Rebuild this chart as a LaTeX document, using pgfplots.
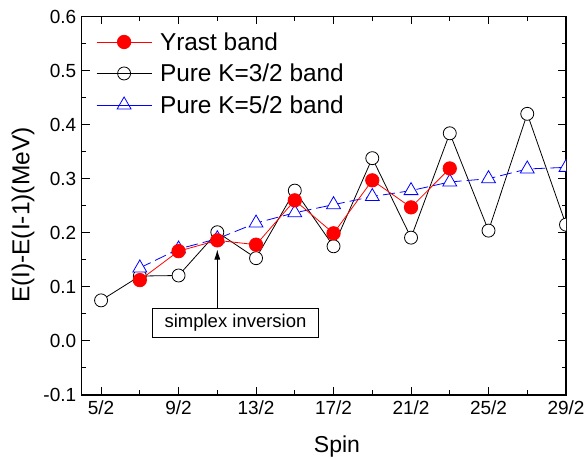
\documentclass[border=0pt]{standalone}
\usepackage{fontspec}
\setmainfont{Liberation Sans}
\usepackage{pgfplots}
\pgfplotsset{compat=1.18}
\usetikzlibrary{arrows.meta}
\pgfplotstableread{
x y
2.5 0.075
3.5 0.120
4.5 0.121
5.5 0.201
6.5 0.153
7.5 0.278
8.5 0.175
9.5 0.338
10.5 0.191
11.5 0.384
12.5 0.204
13.5 0.420
14.5 0.215
}\kthree
\pgfplotstableread{
x y
3.5 0.1125
4.5 0.166
5.5 0.186
6.5 0.178
7.5 0.260
8.5 0.199
9.5 0.297
10.5 0.247
11.5 0.319
}\yrast
\pgfplotstableread{
x y
3.5 0.135
4.5 0.170
5.5 0.189
6.5 0.218
7.5 0.237
8.5 0.252
9.5 0.267
10.5 0.278
11.5 0.294
12.5 0.300
13.5 0.318
14.5 0.321
}\kfive
\begin{document}
\begin{tikzpicture}
\begin{axis}[
  scale only axis,
  width=484.3pt, height=378.5pt,
  xmin=2, xmax=14.5, ymin=-0.1, ymax=0.6,
  xtick={2.5,4.5,6.5,8.5,10.5,12.5,14.5},
  xticklabels={5/2,9/2,13/2,17/2,21/2,25/2,29/2},
  minor xtick={3.5,5.5,7.5,9.5,11.5,13.5},
  ytick={-0.1,0,0.1,0.2,0.3,0.4,0.5,0.6},
  minor ytick={-0.05,0.05,0.15,0.25,0.35,0.45,0.55},
  yticklabel style={/pgf/number format/fixed, /pgf/number format/fixed zerofill, /pgf/number format/precision=1, /tikz/xshift=-2pt},
  /pgf/number format/assume math mode=true,
  tick align=inside,
  major tick length=8pt, minor tick length=4.5pt,
  axis line style={line width=1.3pt},
  every tick/.style={black, line width=1pt},
  tick label style={font=\fontsize{19}{22}\selectfont},
  xticklabel style={/tikz/yshift=-2pt},
  xlabel={Spin}, ylabel={E(I)-E(I-1)(MeV)},
  xlabel style={font=\fontsize{23}{26}\selectfont, at={(rel axis cs:0.527,-0.1506)}, anchor=base},
  ylabel style={font=\fontsize{24.5}{27}\selectfont, at={(rel axis cs:-0.121,0.475)}, anchor=center},
  clip marker paths=true,
  legend image code/.code={\draw[mark repeat=2,mark phase=2] plot coordinates {(0pt,0pt) (27.5pt,0pt) (55pt,0pt)};\path (61pt,0pt);},
  legend style={draw=none, fill=none, at={(0,1)}, anchor=north west, xshift=11.3pt, yshift=-11.7pt,
    font=\fontsize{24.4}{28}\selectfont, row sep=8.3pt},
  legend cell align=left,
]
\addlegendimage{red, line width=0.8pt, mark=*, mark size=6.7pt, mark options={solid, fill=red, draw=red}}
\addlegendentry{Yrast band}
\addlegendimage{black, line width=0.8pt, mark=o, mark size=6.5pt, mark options={solid, fill=white, draw=black}}
\addlegendentry{Pure K=3/2 band}
\addlegendimage{blue, line width=0.8pt, mark=triangle, mark size=8pt, mark options={solid, fill=white, draw=blue}}
\addlegendentry{Pure K=5/2 band}
\addplot[forget plot, black, line width=0.8pt, mark=*, mark size=6.5pt, mark options={solid, fill=white, draw=black}] table {\kthree};
\addplot[forget plot, blue, line width=0.8pt, dash pattern=on 12pt off 5pt, mark=triangle*, mark size=8pt, mark options={solid, fill=white, draw=blue}] table {\kfive};
\addplot[forget plot, red, line width=0.8pt, mark=*, mark size=6.7pt, mark options={solid, fill=red, draw=red}] table {\yrast};
\node[draw=black, line width=0.8pt, fill=white, minimum width=166pt, minimum height=29.3pt, inner sep=0pt,
  font=\fontsize{18.5}{20}\selectfont] at (axis cs:5.97,0.033) {simplex inversion};
\draw[black, line width=0.8pt, -{Latex[length=10pt, width=6pt]}] (axis cs:5.5,0.060) -- (axis cs:5.5,0.169);
\end{axis}
\pgfresetboundingbox
\path (current axis.south west) +(-81.7pt,-64pt) (current axis.north east) +(22pt,16.5pt);
\end{tikzpicture}
\end{document}
